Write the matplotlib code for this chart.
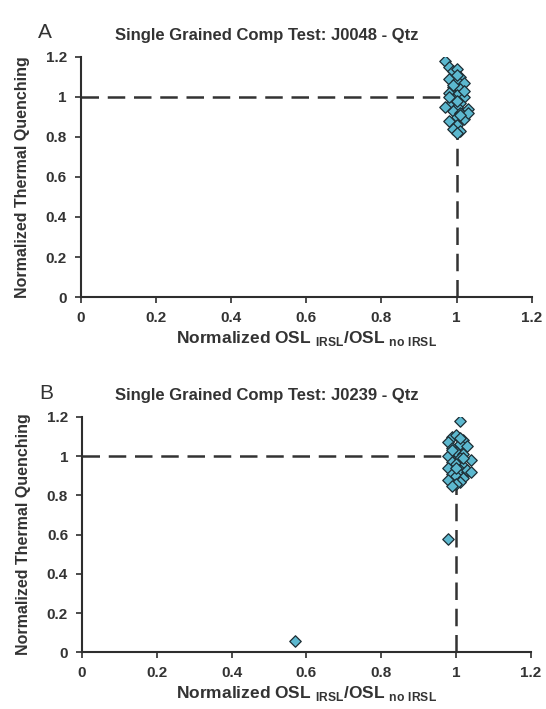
import matplotlib.pyplot as plt

plt.rcParams['font.family'] = ['Liberation Sans', 'DejaVu Sans']
plt.rcParams['mathtext.fontset'] = 'custom'
plt.rcParams['mathtext.rm'] = 'Liberation Sans'
plt.rcParams['mathtext.bf'] = 'Liberation Sans:bold'

# grain ratios for the two samples
a_x = [0.97, 0.98, 0.99, 1.00, 1.01, 0.98, 1.00, 1.02, 0.99, 1.01, 0.98, 1.00,
       1.02, 0.99, 1.01, 0.98, 1.00, 1.03, 0.99, 1.01, 0.97, 1.00, 1.02, 0.98,
       1.00, 1.03, 0.99, 1.01, 1.00, 0.99, 1.02, 1.00, 0.98, 1.01, 1.00]
a_y = [1.18, 1.15, 1.13, 1.14, 1.10, 1.09, 1.08, 1.07, 1.05, 1.04, 1.02, 1.01,
       1.00, 0.99, 0.97, 0.96, 0.95, 0.94, 0.93, 0.92, 0.95, 0.90, 0.89, 0.88,
       0.86, 0.92, 0.84, 0.83, 0.82, 1.06, 1.03, 0.98, 1.00, 0.91, 1.11]

b_x = [0.57, 0.98, 1.01, 0.99, 1.00, 1.02, 0.98, 1.01, 1.03, 0.99, 1.00, 1.02,
       0.98, 1.01, 1.04, 0.99, 1.00, 1.02, 0.98, 1.01, 1.03, 0.99, 1.00, 1.02,
       0.98, 1.01, 1.00, 1.03, 0.99, 1.02, 1.00, 1.04, 0.99, 1.01]
b_y = [0.06, 0.58, 1.18, 1.10, 1.11, 1.08, 1.07, 1.06, 1.05, 1.04, 1.02, 1.01,
       1.00, 0.99, 0.98, 0.97, 0.96, 0.95, 0.94, 0.93, 0.92, 0.91, 0.90, 0.89,
       0.88, 0.87, 0.86, 0.93, 1.03, 0.99, 0.94, 0.92, 0.85, 1.09]

titles = ['Single Grained Comp Test: J0048 - Qtz',
          'Single Grained Comp Test: J0239 - Qtz']
letters = ['A', 'B']
ticks = [0, 0.2, 0.4, 0.6, 0.8, 1, 1.2]
tick_labels = ['0', '0.2', '0.4', '0.6', '0.8', '1', '1.2']

fig = plt.figure(figsize=(5.46, 7.09), dpi=100)
boxes = [[0.148, 0.581, 0.826, 0.339], [0.150, 0.080, 0.822, 0.332]]
axis_col = '#2e2e2e'

for box, xs, ys, title, letter in zip(boxes, [a_x, b_x], [a_y, b_y], titles, letters):
    ax = fig.add_axes(box)
    ax.plot([0, 1], [1, 1], color='#333333', lw=1.8, dashes=(7, 3.5), zorder=1)
    ax.plot([1, 1], [0, 1], color='#333333', lw=1.8, dashes=(7, 3.5), zorder=1)
    ax.scatter(xs, ys, marker='D', s=34, facecolor='#5cb8cf',
               edgecolor='#1d2c33', linewidth=0.9, zorder=3)
    ax.set_xlim(0, 1.2)
    ax.set_ylim(0, 1.2)
    ax.set_xticks(ticks)
    ax.set_yticks(ticks)
    ax.set_xticklabels(tick_labels, fontweight='bold', fontsize=11, color='#333333')
    ax.set_yticklabels(tick_labels, fontweight='bold', fontsize=11, color='#333333')
    ax.tick_params(direction='out', length=4, width=1.2, color=axis_col, pad=6)
    for side in ['top', 'right']:
        ax.spines[side].set_visible(False)
    for side in ['left', 'bottom']:
        ax.spines[side].set_color(axis_col)
        ax.spines[side].set_linewidth(1.5)
    ax.set_xlabel(r'Normalized OSL $_{\mathbf{IRSL}}$/OSL $_{\mathbf{no\ IRSL}}$',
                  fontweight='bold', fontsize=12.5, color='#333333', labelpad=3)
    ax.set_ylabel('Normalized Thermal Quenching', fontweight='bold',
                  fontsize=11.5, color='#333333', labelpad=11)
    # title sits a little left of the plot centre
    ax.text(0.489 * 5.46 / (box[2] * 5.46) - box[0] / box[2], 1.09, title,
            transform=ax.transAxes, fontweight='bold', fontsize=12,
            color='#333333', ha='center', va='center')
    ax.text(-0.095, 1.06, letter, transform=ax.transAxes, fontsize=15,
            color='#333333', ha='left', va='bottom')

fig.savefig('out.png', dpi=100)
